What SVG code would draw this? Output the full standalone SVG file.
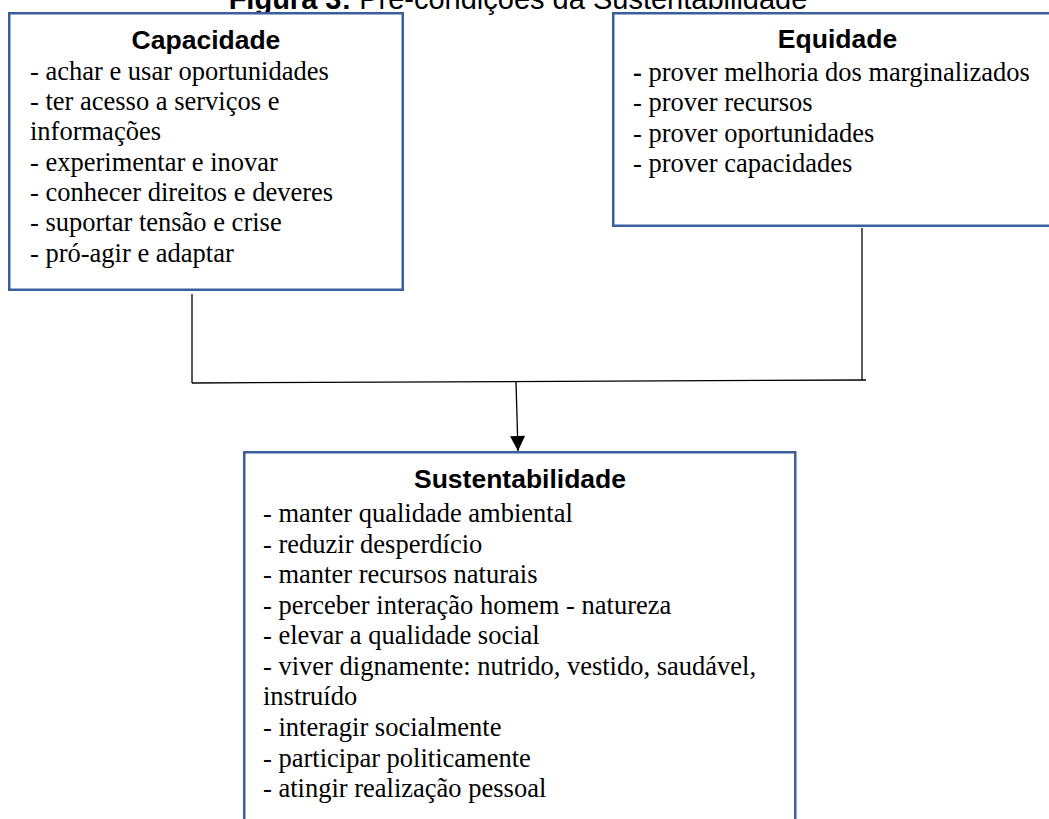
<svg xmlns="http://www.w3.org/2000/svg" width="1049" height="819" viewBox="0 0 1049 819">
<style>
.box{fill:#ffffff;stroke:#3B5E9C;stroke-width:2.5}
.head{font-family:"Liberation Sans",Arial,sans-serif;font-weight:bold;font-size:26.5px;fill:#000;text-anchor:middle}
.item{font-family:"Liberation Serif","Times New Roman",serif;font-size:26.5px;fill:#000}
.title{font-family:"Liberation Sans",Arial,sans-serif;font-size:29px;fill:#000;text-anchor:middle}
.conn{fill:none;stroke:#000;stroke-width:1.3}
</style>
<defs>
<marker id="arrow" markerUnits="userSpaceOnUse" markerWidth="16" markerHeight="15" refX="16" refY="8" orient="auto" viewBox="0 0 16 16">
<path d="M0,0 L16,8 L0,16 Z" fill="#000"/>
</marker>
</defs>
<rect width="1049" height="819" fill="#ffffff"/>
<text class="title" x="518" y="9"><tspan font-weight="bold">Figura 3:</tspan> Pré-condições da Sustentabilidade</text>
<g id="connectors">
<line class="conn" x1="192" y1="294" x2="192" y2="383"/>
<line class="conn" x1="862" y1="228" x2="862" y2="380"/>
<line class="conn" x1="192" y1="383" x2="866" y2="380"/>
<line class="conn" x1="516" y1="382" x2="518" y2="451" marker-end="url(#arrow)"/>
</g>
<g id="capacidade">
<rect class="box" x="9.25" y="13.25" width="393.5" height="276.5"/>
<text class="head" x="206" y="49">Capacidade</text>
<text class="item" x="30" y="80">- achar e usar oportunidades</text>
<text class="item" x="30" y="110">- ter acesso a serviços e</text>
<text class="item" x="30" y="140">informações</text>
<text class="item" x="30" y="171">- experimentar e inovar</text>
<text class="item" x="30" y="201">- conhecer direitos e deveres</text>
<text class="item" x="30" y="231">- suportar tensão e crise</text>
<text class="item" x="30" y="262">- pró-agir e adaptar</text>
</g>
<g id="equidade">
<rect class="box" x="613.25" y="13.25" width="450" height="212.5"/>
<text class="head" x="837.5" y="48">Equidade</text>
<text class="item" x="633" y="81"><tspan font-weight="bold">-</tspan> prover melhoria dos marginalizados</text>
<text class="item" x="633" y="111">- prover recursos</text>
<text class="item" x="633" y="142">- prover oportunidades</text>
<text class="item" x="633" y="172">- prover capacidades</text>
</g>
<g id="sustentabilidade">
<rect class="box" x="244.25" y="452.25" width="551" height="380"/>
<text class="head" x="520" y="488">Sustentabilidade</text>
<text class="item" x="263" y="522">- manter qualidade ambiental</text>
<text class="item" x="263" y="553">- reduzir desperdício</text>
<text class="item" x="263" y="583">- manter recursos naturais</text>
<text class="item" x="263" y="614">- perceber interação homem - natureza</text>
<text class="item" x="263" y="644">- elevar a qualidade social</text>
<text class="item" x="263" y="675">- viver dignamente: nutrido, vestido, saudável,</text>
<text class="item" x="263" y="705">instruído</text>
<text class="item" x="263" y="736">- interagir socialmente</text>
<text class="item" x="263" y="767">- participar politicamente</text>
<text class="item" x="263" y="797">- atingir realização pessoal</text>
</g>
</svg>
